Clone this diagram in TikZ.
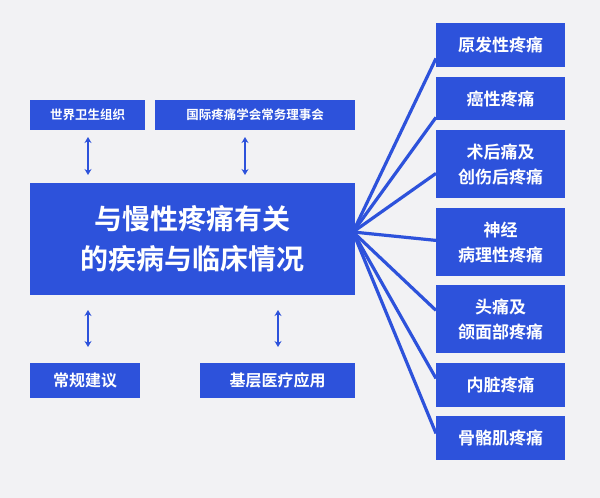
\documentclass[tikz,border=0pt]{standalone}
\usetikzlibrary{arrows.meta}
\usepackage{fontspec}
\newfontfamily\cjk{Noto Sans CJK SC Bold}
\definecolor{bl}{HTML}{2D52DB}
\definecolor{bg}{HTML}{F2F2F4}
\begin{document}
\begin{tikzpicture}[x=1pt,y=-1pt,
  box/.style={fill=bl,text=white,font=\cjk,inner sep=0pt,anchor=north west,align=center},
  ln/.style={draw=bl,line width=3.2pt},
  arr/.style={draw=bl,line width=2pt,{Stealth[length=6pt,width=7pt]}-{Stealth[length=6pt,width=7pt]}}]
\fill[bg] (0,0) rectangle (600,498);
\useasboundingbox (0,0) rectangle (600,498);
\node[box,minimum width=325,minimum height=112,font=\cjk\fontsize{28}{40}\selectfont] (c) at (30,183) {与慢性疼痛有关\\的疾病与临床情况};
\node[box,minimum width=115,minimum height=30,font=\cjk\fontsize{12.5}{15}\selectfont] (w) at (30,100) {世界卫生组织};
\node[box,minimum width=200,minimum height=30,font=\cjk\fontsize{12.5}{15}\selectfont] (i) at (155,100) {国际疼痛学会常务理事会};
\node[box,minimum width=110,minimum height=35,font=\cjk\fontsize{16}{20}\selectfont] (g) at (30,363) {常规建议};
\node[box,minimum width=155,minimum height=35,font=\cjk\fontsize{16}{20}\selectfont] (j) at (200,363) {基层医疗应用};
\draw[arr] (88,137) -- (88,175);
\draw[arr] (245,137) -- (245,175);
\draw[arr] (88,310) -- (88,347);
\draw[arr] (278,310) -- (278,347);
\tikzset{rb/.style={box,minimum width=129,font=\cjk\fontsize{17}{25}\selectfont}}
\node[rb,minimum height=44] (r1) at (436,23) {原发性疼痛};
\node[rb,minimum height=43] (r2) at (436,77) {癌性疼痛};
\node[rb,minimum height=68] (r3) at (436,130) {术后痛及\\创伤后疼痛};
\node[rb,minimum height=68] (r4) at (436,208) {神经\\病理性疼痛};
\node[rb,minimum height=68] (r5) at (436,285) {头痛及\\颌面部疼痛};
\node[rb,minimum height=44] (r6) at (436,363) {内脏疼痛};
\node[rb,minimum height=44] (r7) at (436,416) {骨骼肌疼痛};
\coordinate (o) at (353,232);
\draw[ln] (o) -- ([yshift=9]r1.south west);
\draw[ln] (o) -- ([yshift=3]r2.south west);
\draw[ln] (o) -- ([yshift=25]r3.south west);
\draw[ln] (o) -- ([yshift=36]r4.south west);
\draw[ln] (o) -- ([yshift=43]r5.south west);
\draw[ln] (o) -- ([yshift=29]r6.south west);
\draw[ln] (o) -- ([yshift=27]r7.south west);
\end{tikzpicture}
\end{document}
